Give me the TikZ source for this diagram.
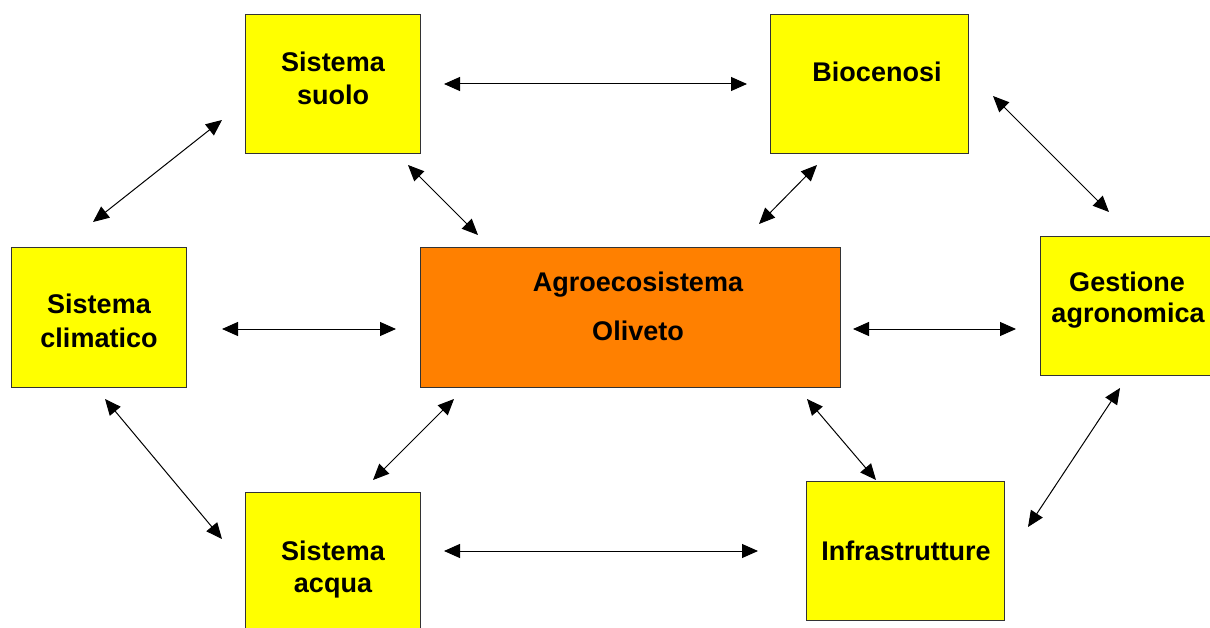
\documentclass[tikz,border=0pt]{standalone}
\usepackage{fontspec}
\setmainfont{Liberation Sans}
\usetikzlibrary{arrows.meta}
\definecolor{boxyellow}{HTML}{FFFF00}
\definecolor{boxorange}{HTML}{FF8000}
\definecolor{boxline}{HTML}{333333}
\begin{document}
\begin{tikzpicture}[x=1pt,y=-1pt,
  boxnode/.style={draw=boxline,line width=1.4pt,fill=boxyellow,anchor=north west,inner sep=0pt},
  lbl/.style={anchor=base,inner sep=0pt,font=\fontsize{27}{31}\selectfont\bfseries},
  dbl/.style={{Triangle[length=16pt,width=14pt]}-{Triangle[length=16pt,width=14pt]},line width=1pt,black}]
\useasboundingbox (0,0) rectangle (1210,628);
\fill[white] (0,0) rectangle (1210,628);
% boxes
\node[boxnode,minimum width=175pt,minimum height=139pt] (suolo) at (245,14) {};
\node[boxnode,minimum width=198pt,minimum height=139pt] (bio) at (770,14) {};
\node[boxnode,minimum width=175pt,minimum height=140pt] (clima) at (11,247) {};
\node[boxnode,fill=boxorange,minimum width=420pt,minimum height=140pt] (agro) at (420,247) {};
\node[boxnode,minimum width=180pt,minimum height=139pt] (gest) at (1040,236) {};
\node[boxnode,minimum width=175pt,minimum height=140pt] (acqua) at (245,492) {};
\node[boxnode,minimum width=198pt,minimum height=139pt] (infra) at (806,481) {};
% labels
\node[lbl] (t1a) at (333,72) {Sistema};
\node[lbl] (t1b) at (333,105) {suolo};
\node[lbl] (t2) at (877,82) {Biocenosi};
\node[lbl] (t3a) at (99,314) {Sistema};
\node[lbl] (t3b) at (99,347) {climatico};
\node[lbl] (t4a) at (638,292) {Agroecosistema};
\node[lbl] (t4b) at (638,340) {Oliveto};
\node[lbl] (t5a) at (1127,292) {Gestione};
\node[lbl] (t5b) at (1128,323) {agronomica};
\node[lbl] (t6a) at (333,560) {Sistema};
\node[lbl] (t6b) at (333,592) {acqua};
\node[lbl] (t7) at (906,560) {Infrastrutture};
% arrow end points
\coordinate (a1s) at (444,84);  \coordinate (a1e) at (747,84);
\coordinate (a2s) at (222,120); \coordinate (a2e) at (93,222);
\coordinate (a3s) at (408,165); \coordinate (a3e) at (478,235);
\coordinate (a4s) at (817,165); \coordinate (a4e) at (759,224);
\coordinate (a5s) at (993,96);  \coordinate (a5e) at (1109,212);
\coordinate (a6s) at (222,329); \coordinate (a6e) at (396,329);
\coordinate (a7s) at (853,329); \coordinate (a7e) at (1016,329);
\coordinate (a8s) at (105,399); \coordinate (a8e) at (222,539);
\coordinate (a9s) at (454,399); \coordinate (a9e) at (373,480);
\coordinate (a10s) at (807,399); \coordinate (a10e) at (876,480);
\coordinate (a11s) at (1120,388); \coordinate (a11e) at (1028,527);
\coordinate (a12s) at (444,551); \coordinate (a12e) at (758,551);
\foreach \i in {1,...,12} {\draw[dbl] (a\i s) -- (a\i e);}
\end{tikzpicture}
\end{document}
